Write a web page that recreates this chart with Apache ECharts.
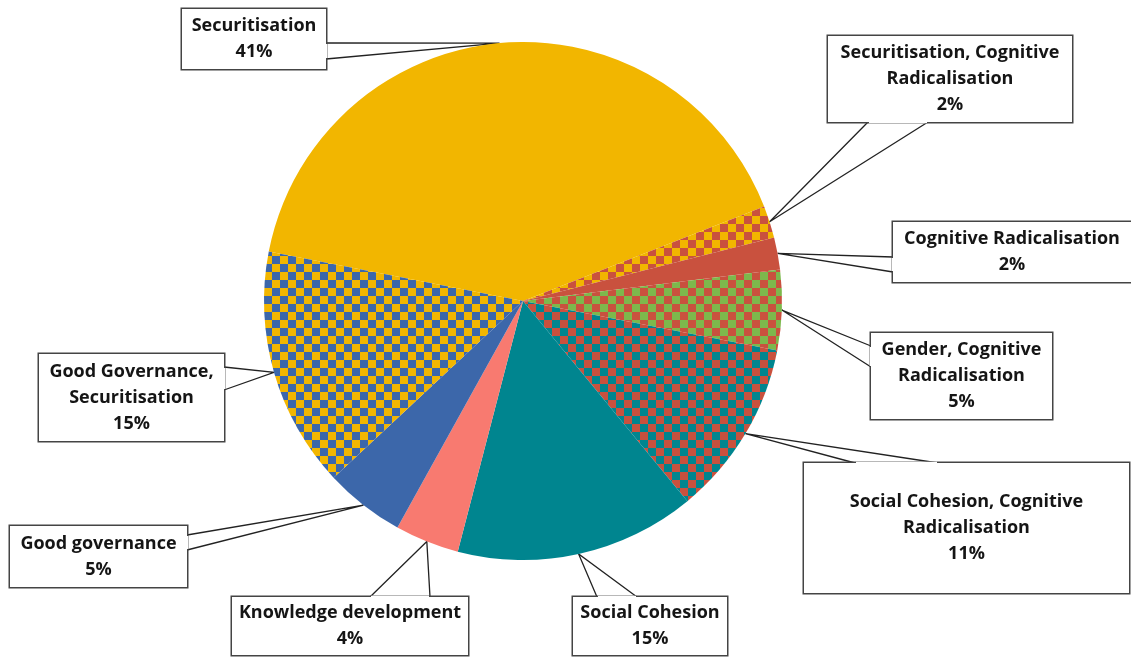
<!DOCTYPE html>
<html>
<head>
<meta charset="utf-8">
<script src="https://cdn.jsdelivr.net/npm/echarts@6/dist/echarts.min.js"></script>
<style>
  html, body { margin: 0; padding: 0; background: #fff; }
  #chart { width: 1131px; height: 657px; }
</style>
</head>
<body>
<div id="chart"></div>
<script>
// data (share of items, %)
const categories = [
  'Securitisation',
  'Securitisation, Cognitive Radicalisation',
  'Cognitive Radicalisation',
  'Gender, Cognitive Radicalisation',
  'Social Cohesion, Cognitive Radicalisation',
  'Social Cohesion',
  'Knowledge development',
  'Good governance',
  'Good Governance, Securitisation'
]
const shares = [41, 2, 2, 5, 11, 15, 4, 5, 15]
// how each name is broken over lines in its box
const labelNames = [
  'Securitisation',
  'Securitisation, Cognitive\nRadicalisation',
  'Cognitive Radicalisation',
  'Gender, Cognitive\nRadicalisation',
  'Social Cohesion, Cognitive\nRadicalisation',
  'Social Cohesion',
  'Knowledge development',
  'Good governance',
  'Good Governance,\nSecuritisation'
]

// colours
const YELLOW = '#f2b600'
const RED = '#c9513e'
const GREEN = '#7db84c'
const TEAL = '#00858f'
const BLUE = '#3c67aa'
const SALMON = '#f87a70'

// checker pattern, squares of `s` px
function checker(a, b) {
  const s = 8
  const c = document.createElement('canvas')
  c.width = 2 * s
  c.height = 2 * s
  const ctx = c.getContext('2d')
  ctx.fillStyle = a
  ctx.fillRect(0, 0, 2 * s, 2 * s)
  ctx.fillStyle = b
  ctx.fillRect(0, 0, s, s)
  ctx.fillRect(s, s, s, s)
  return { image: c, repeat: 'repeat' }
}

const fills = [
  YELLOW,
  checker(YELLOW, RED),
  RED,
  checker(GREEN, RED),
  checker(TEAL, RED),
  TEAL,
  SALMON,
  BLUE,
  checker(YELLOW, BLUE)
]

// callout boxes [x0, y0, x1, y1] and where the pointer leaves the box
const callouts = [
  { box: [182, 9, 326, 69], base: [[326, 43], [326, 59]] },
  { box: [828, 36, 1072, 122], base: [[868, 122], [928, 122]] },
  { box: [893, 222, 1131, 282], base: [[893, 257], [893, 272]] },
  { box: [871, 333, 1052, 419], base: [[871, 346], [871, 367]] },
  { box: [804, 463, 1129, 593], base: [[855, 463], [938, 463]] },
  { box: [573, 597, 727, 655], base: [[597, 597], [637, 597]] },
  { box: [232, 597, 468, 655], base: [[370, 597], [430, 597]] },
  { box: [10, 526, 187, 587], base: [[187, 535], [187, 550]] },
  { box: [39, 354, 224, 441], base: [[224, 367], [224, 390]] }
]

const LINE_H = 26

const seriesData = categories.map((name, i) => {
  const b = callouts[i].box
  const lines = labelNames[i].split('\n').length + 1
  const padH = 4
  const padV = Math.max(2, (b[3] - b[1] - lines * LINE_H) / 2)
  return {
    name: name,
    value: shares[i],
    itemStyle: { color: fills[i] },
    label: {
      width: b[2] - b[0] - 2 * padH,
      padding: [padV, padH, padV, padH]
    }
  }
})

// white strokes that open the box border where the pointer joins it
const gaps = callouts.map(c => {
  const p = c.base[0], q = c.base[1]
  const vertical = p[0] === q[0]
  return {
    type: 'line',
    z: 100,
    shape: vertical
      ? { x1: p[0], y1: p[1] + 1, x2: q[0], y2: q[1] - 1 }
      : { x1: p[0] + 1, y1: p[1], x2: q[0] - 1, y2: q[1] },
    style: { stroke: '#fff', lineWidth: 2.5 }
  }
})

const chart = echarts.init(document.getElementById('chart'))
chart.setOption({
  animation: false,
  graphic: gaps,
  series: [
    {
      type: 'pie',
      center: [523, 301],
      radius: 259,
      startAngle: 169,
      clockwise: true,
      avoidLabelOverlap: false,
      data: seriesData,
      label: {
        show: true,
        position: 'outside',
        formatter: p => labelNames[p.dataIndex] + '\n' + shares[p.dataIndex] + '%',
        fontFamily: 'Open Sans',
        fontWeight: 'bold',
        fontSize: 18,
        lineHeight: LINE_H,
        color: '#151515',
        align: 'center',
        backgroundColor: '#fff',
        borderColor: '#444',
        borderWidth: 1.5
      },
      labelLine: {
        show: true,
        lineStyle: { color: '#222', width: 1.3 }
      },
      labelLayout: function (p) {
        const c = callouts[p.dataIndex]
        const tip = p.labelLinePoints ? p.labelLinePoints[0] : c.base[0]
        return {
          x: (c.box[0] + c.box[2]) / 2,
          y: (c.box[1] + c.box[3]) / 2,
          align: 'center',
          verticalAlign: 'middle',
          labelLinePoints: [c.base[0], tip, c.base[1]]
        }
      },
      emphasis: { disabled: true }
    }
  ]
})
</script>
</body>
</html>
